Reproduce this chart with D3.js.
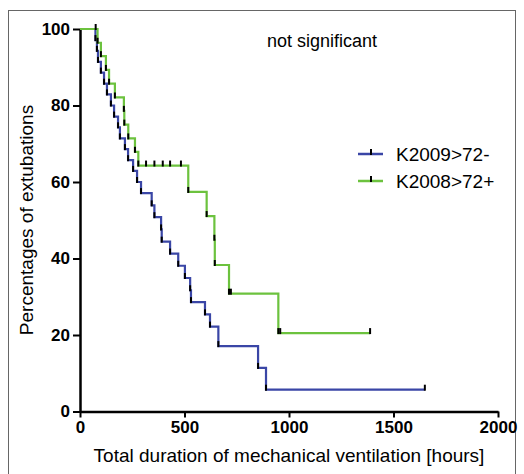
<!DOCTYPE html>
<html><head><meta charset="utf-8">
<script src="https://cdn.jsdelivr.net/npm/d3@7"></script>
<style>
html,body{margin:0;padding:0;background:#fff;}
svg{display:block;font-family:"Liberation Sans",Arial,Helvetica,sans-serif;}
</style></head>
<body>
<svg id="chart" width="524" height="474"></svg>
<script>
// ---- data ----
const seriesNames = ["K2009>72-", "K2008>72+"];
const seriesColors = ["#3a46a6", "#6cc23e"];
const xTicks = [0, 500, 1000, 1500, 2000];
const yTicks = [0, 20, 40, 60, 80, 100];
const annotation = "not significant";
const xTitle = "Total duration of mechanical ventilation [hours]";
const yTitle = "Percentages of extubations";

const blueTimes  = [0, 74, 81, 86, 100, 115, 129, 148, 163, 182, 191, 215, 230, 254, 273, 292, 343, 356, 388, 391, 431, 470, 502, 527, 531, 598, 622, 662, 852, 890, 1650];
const blueValues = [100, 97.1, 94.3, 91.4, 88.6, 85.7, 82.9, 80.0, 77.1, 74.3, 71.4, 68.6, 65.7, 62.9, 60.0, 57.1, 53.9, 50.8, 47.6, 44.4, 41.3, 38.1, 34.9, 31.7, 28.6, 25.4, 22.2, 17.1, 11.4, 5.7, 5.7];

const greenTimes  = [0, 75, 84, 100, 124, 139, 167, 210, 212, 231, 263, 279, 316, 356, 396, 431, 483, 518, 606, 643, 645, 713, 722, 949, 958, 1388];
const greenValues = [100, 100, 96.4, 92.9, 89.3, 85.7, 82.1, 78.6, 75.0, 71.4, 67.9, 64.3, 64.3, 64.3, 64.3, 64.3, 64.3, 57.4, 51.1, 44.9, 38.3, 30.8, 30.8, 20.5, 20.5, 20.5];

// ---- chart ----
const svg = d3.select("#chart");
const x = d3.scaleLinear().domain([0, 2000]).range([80, 498]);
const y = d3.scaleLinear().domain([0, 100]).range([411.5, 29]);

// frame
svg.append("rect").attr("x", 8.5).attr("y", 10.5).attr("width", 507).attr("height", 470)
  .attr("fill", "none").attr("stroke", "#666").attr("stroke-width", 1);

const series = [
  {name: seriesNames[0], color: seriesColors[0], pts: blueTimes.map((t, i) => [t, blueValues[i]])},
  {name: seriesNames[1], color: seriesColors[1], pts: greenTimes.map((t, i) => [t, greenValues[i]])}
];

// axes
const xAxis = svg.append("g").attr("transform", `translate(0,${y(0)})`)
  .call(d3.axisBottom(x).tickValues(xTicks).tickSize(6).tickSizeOuter(0).tickPadding(3).tickFormat(d3.format("d")));
const yAxis = svg.append("g").attr("transform", `translate(${x(0)},0)`)
  .call(d3.axisLeft(y).tickValues(yTicks).tickSize(7).tickSizeOuter(0).tickPadding(3).tickFormat(d3.format("d")));
[xAxis, yAxis].forEach(g => {
  g.select(".domain").attr("stroke", "#000").attr("stroke-width", 2.5);
  g.selectAll(".tick line").attr("stroke", "#000").attr("stroke-width", 2);
  g.selectAll(".tick text").attr("fill", "#000").attr("font-size", 17).attr("font-weight", "bold")
    .attr("font-family", '"Liberation Sans",Arial,sans-serif');
});

// curves
const line = d3.line().x(d => x(d[0])).y(d => y(d[1])).curve(d3.curveStepAfter);
series.forEach(s => {
  svg.append("path").datum(s.pts).attr("d", line).attr("fill", "none")
    .attr("stroke", s.color).attr("stroke-width", 2.2);
});
series.forEach(s => {
  svg.append("g").selectAll("line").data(s.pts.slice(1)).join("line")
    .attr("x1", d => x(d[0])).attr("x2", d => x(d[0]))
    .attr("y1", d => y(d[1]) + 1).attr("y2", d => y(d[1]) - 5)
    .attr("stroke", "#000").attr("stroke-width", 2);
});

// legend
series.forEach((s, i) => {
  const ly = 154 + i * 27;
  svg.append("line").attr("x1", 358).attr("x2", 383).attr("y1", ly).attr("y2", ly)
    .attr("stroke", s.color).attr("stroke-width", 2.5);
  svg.append("line").attr("x1", 371).attr("x2", 371).attr("y1", ly + 1).attr("y2", ly - 5)
    .attr("stroke", "#000").attr("stroke-width", 2);
  svg.append("text").attr("x", 396).attr("y", ly + 7).attr("font-size", 19).attr("fill", "#000").text(s.name);
});

// annotation
svg.append("text").attr("x", 322).attr("y", 47).attr("text-anchor", "middle")
  .attr("font-size", 18).attr("fill", "#000").text(annotation);

// axis titles
svg.append("text").attr("x", 289).attr("y", 462).attr("text-anchor", "middle")
  .attr("font-size", 19).attr("fill", "#000").text(xTitle);
svg.append("text").attr("transform", "translate(33,220) rotate(-90)").attr("text-anchor", "middle")
  .attr("font-size", 19).attr("fill", "#000").text(yTitle);
</script>
</body></html>
